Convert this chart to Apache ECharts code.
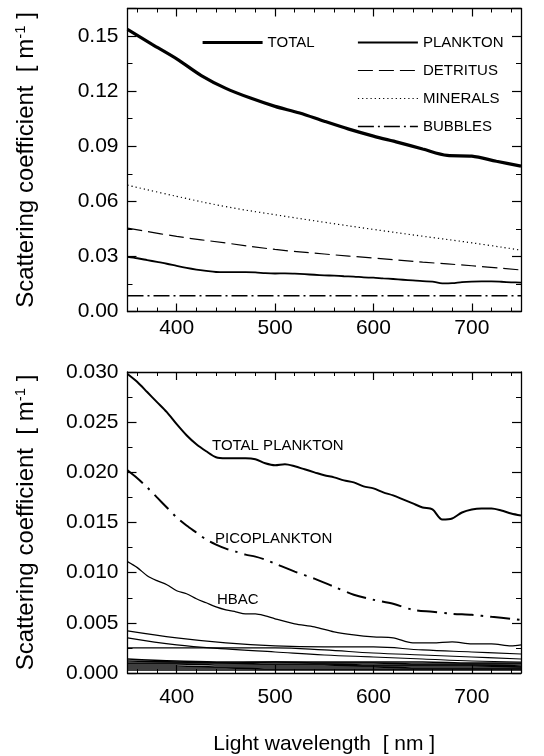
<!DOCTYPE html>
<html>
<head>
<meta charset="utf-8">
<script src="https://cdn.jsdelivr.net/npm/echarts@6/dist/echarts.min.js"></script>
<style>html,body{margin:0;padding:0;background:#fff;}#c{width:544px;height:756px;}</style>
</head>
<body>
<div id="c"></div>
<script>
// ---------- DATA ----------
const wl25 = [350,375,400,425,450,475,500,525,550,575,600,625,650,675,700,725,750];
const wl50 = [350,400,450,500,550,600,650,700,750];
const wl100 = [350,450,550,650,750];
const wlTP = [350,360,370,380,390,400,410,420,430,440,450,460,470,480,490,500,510,520,530,540,550,560,570,580,590,600,610,620,630,640,650,660,670,680,690,700,710,720,730,740,750];
const wlFine = [350,360,370,380,390,400,410,420,430,440,450,460,470,480,490,500,520,540,560,580,600,620,640,660,680,700,720,740,750];

// top panel
const total    = [0.1536,0.1455,0.1376,0.1285,0.1215,0.1162,0.1117,0.1081,0.1036,0.0993,0.0955,0.0921,0.0885,0.0850,0.0846,0.0818,0.0792];
const detritus = [0.0454,0.0409,0.0373,0.0338,0.0313,0.0291,0.0269,0.0249,0.0226];
const minerals = [0.0688,0.0627,0.0571,0.0527,0.0486,0.0447,0.0410,0.0374,0.0334];
const bubbles  = [0.0086,0.0086,0.0086,0.0086,0.0086];
// plankton (top) = total plankton (bottom)
const totalPlankton = [0.0298,0.0290,0.0280,0.0270,0.0260,0.0248,0.0237,0.0228,0.0221,0.0215,0.0214,0.0214,0.0214,0.0213,0.0209,0.0207,0.0208,0.0206,0.0203,0.0200,0.0197,0.0195,0.0192,0.0190,0.0186,0.0184,0.0180,0.0177,0.0173,0.0169,0.0165,0.0163,0.0153,0.0154,0.0160,0.0163,0.0164,0.0164,0.0162,0.0159,0.0157];
// bottom panel
const pico = [0.0202,0.0194,0.0185,0.0175,0.0165,0.0155,0.0147,0.0140,0.0133,0.0128,0.0124,0.0121,0.0118,0.0116,0.0113,0.0109,0.0101,0.0094,0.0086,0.0078,0.0073,0.0069,0.0063,0.0061,0.0059,0.0058,0.0056,0.0054,0.0053];
const hbac = [0.0111,0.0105,0.0097,0.0092,0.0088,0.0082,0.0079,0.0074,0.0070,0.0066,0.0063,0.0061,0.0059,0.0059,0.0057,0.0054,0.0049,0.0046,0.0041,0.0038,0.0036,0.0035,0.0030,0.0030,0.0031,0.0029,0.0029,0.0027,0.0028];
const small = [
  [0.0042,0.0035,0.0030,0.0027,0.0026,0.0026,0.0023,0.0021,0.0019],
  [0.0025,0.0025,0.0025,0.0025,0.0023,0.0020,0.0018,0.0016,0.0014],
  [0.0035,0.0028,0.0024,0.0021,0.0018,0.0016,0.0014,0.0012,0.0011],
  [0.0014,0.0012,0.0011,0.0011,0.0010,0.0010,0.0009,0.0009,0.0009],
  [0.0012,0.0011,0.0010,0.0009,0.0009,0.0008,0.0008,0.0008,0.0007],
  [0.0010,0.0010,0.0010,0.0011,0.0011,0.0011,0.0011,0.0010,0.0010],
  [0.0009,0.0009,0.0008,0.0008,0.0008,0.0007,0.0007,0.0007,0.0006],
  [0.0007,0.0007,0.0006,0.0006,0.0006,0.0006,0.0005,0.0005,0.0005],
  [0.0005,0.0005,0.0005,0.0004,0.0004,0.0004,0.0004,0.0004,0.0004],
  [0.0003,0.0003,0.0003,0.0003,0.0003,0.0003,0.0003,0.0003,0.0003]
];
const xMajor = [400,500,600,700];
const xMinor = [360,380,420,440,460,480,520,540,560,580,620,640,660,680,720,740];

// ---------- CHART ----------
const FONT = '"Liberation Sans", Arial, Helvetica, sans-serif';
const zip = (xs, ys) => xs.map((x,i)=>[x, ys[i]]);
const chart = echarts.init(document.getElementById('c'), null, {renderer:'canvas'});

function xAxes(gi, labelMargin){
  const base = {gridIndex:gi, type:'value', min:350, max:750, interval:50, splitLine:{show:false}};
  return [
    Object.assign({}, base, {position:'bottom',
      axisLine:{show:true, lineStyle:{color:'#000', width:1.3}},
      axisTick:{show:true, inside:true, length:8, customValues:xMajor, lineStyle:{color:'#000', width:1.2}},
      axisLabel:{show:true, customValues:xMajor, color:'#000', fontSize:21, fontFamily:FONT, margin:labelMargin}}),
    Object.assign({}, base, {position:'bottom',
      axisLine:{show:false},
      axisTick:{show:true, inside:true, length:4, customValues:xMinor, lineStyle:{color:'#000', width:1}},
      axisLabel:{show:false}}),
    Object.assign({}, base, {position:'top',
      axisLine:{show:true, lineStyle:{color:'#000', width:1.3}},
      axisTick:{show:true, inside:true, length:8, customValues:xMajor, lineStyle:{color:'#000', width:1.2}},
      axisLabel:{show:false}}),
    Object.assign({}, base, {position:'top',
      axisLine:{show:false},
      axisTick:{show:true, inside:true, length:4, customValues:xMinor, lineStyle:{color:'#000', width:1}},
      axisLabel:{show:false}})
  ];
}
function yAxes(gi, max, interval, digits){
  const fmt = v => (Math.abs(v/interval - Math.round(v/interval)) < 1e-6) ? v.toFixed(digits) : '';
  const common = {gridIndex:gi, type:'value', min:0, max:max, interval:interval, splitLine:{show:false},
    axisLine:{show:true, lineStyle:{color:'#000', width:1.3}},
    axisTick:{show:true, inside:true, length:9, lineStyle:{color:'#000', width:1.2}},
    minorTick:{show:true, splitNumber:2, length:5, lineStyle:{color:'#000', width:1}}};
  return [
    Object.assign({}, common, {position:'left',
      axisLabel:{color:'#000', fontSize:21, fontFamily:FONT, margin:9, formatter:fmt, showMaxLabel:true},
      name:'{a|Scattering coefficient  [ m}{s|-1}{a| ]}', nameLocation:'middle', nameGap:88,
      nameTextStyle:{color:'#000', fontFamily:FONT, fontSize:24,
        rich:{a:{fontSize:24, fontFamily:FONT, color:'#000'}, s:{fontSize:15, fontFamily:FONT, color:'#000', verticalAlign:'top', padding:[0,0,11,0]}}}}),
    Object.assign({}, common, {position:'right', axisLabel:{show:false}})
  ];
}

const xs = xAxes(0, 6).concat(xAxes(1, 14));
xs[4].name = 'Light wavelength  [ nm ]';
xs[4].nameLocation = 'middle';
xs[4].nameGap = 61;
xs[4].nameTextStyle = {color:'#000', fontSize:21, fontFamily:FONT};

const ys = yAxes(0, 0.165, 0.03, 2).concat(yAxes(1, 0.03, 0.005, 3));

const blk = {color:'#000'};
const series = [
  {name:'TOTAL', type:'line', xAxisIndex:0, yAxisIndex:0, data:zip(wl25,total), showSymbol:false, symbol:'none', smooth:0.3,
   itemStyle:blk, lineStyle:{color:'#000', width:3.2}},
  {name:'PLANKTON', type:'line', xAxisIndex:0, yAxisIndex:0, data:zip(wlTP,totalPlankton), showSymbol:false, symbol:'none', smooth:0.3,
   itemStyle:blk, lineStyle:{color:'#000', width:1.8}},
  {name:'DETRITUS', type:'line', xAxisIndex:0, yAxisIndex:0, data:zip(wl50,detritus), showSymbol:false, symbol:'none', smooth:0.4,
   itemStyle:blk, lineStyle:{color:'#000', width:1.2, type:[15,6]}},
  {name:'MINERALS', type:'line', xAxisIndex:0, yAxisIndex:0, data:zip(wl50,minerals), showSymbol:false, symbol:'none', smooth:0.4,
   itemStyle:blk, lineStyle:{color:'#000', width:1.2, type:[1.2,3]}},
  {name:'BUBBLES', type:'line', xAxisIndex:0, yAxisIndex:0, data:zip(wl100,bubbles), showSymbol:false, symbol:'none',
   itemStyle:blk, lineStyle:{color:'#000', width:1.6, type:[16,4,2,4]}},
  {name:'TOTAL PLANKTON', type:'line', xAxisIndex:4, yAxisIndex:2, data:zip(wlTP,totalPlankton), showSymbol:false, symbol:'none', smooth:0.3,
   itemStyle:blk, lineStyle:{color:'#000', width:2}},
  {name:'PICOPLANKTON', type:'line', xAxisIndex:4, yAxisIndex:2, data:zip(wlFine,pico), showSymbol:false, symbol:'none', smooth:0.3,
   itemStyle:blk, lineStyle:{color:'#000', width:2, type:[20,7,2.5,7]}},
  {name:'HBAC', type:'line', xAxisIndex:4, yAxisIndex:2, data:zip(wlFine,hbac), showSymbol:false, symbol:'none', smooth:0.3,
   itemStyle:blk, lineStyle:{color:'#000', width:1.3}}
];
small.forEach((arr,i)=>{
  series.push({name:'class'+(i+1), type:'line', xAxisIndex:4, yAxisIndex:2, data:zip(wl50,arr), showSymbol:false, symbol:'none', smooth:0.4,
    itemStyle:blk, lineStyle:{color:'#000', width: i>=3 ? 1.6 : 1.1}});
});

const legendCommon = {itemWidth:60, itemHeight:14, selectedMode:false,
  itemStyle:{opacity:0, borderWidth:0},
  textStyle:{color:'#000', fontSize:15, fontFamily:FONT}};

chart.setOption({
  animation:false,
  backgroundColor:'#fff',
  textStyle:{fontFamily:FONT},
  grid:[
    {left:127.5, right:23, top:8.5, height:303},
    {left:127.5, right:23, top:372, height:301}
  ],
  xAxis: xs,
  yAxis: ys,
  legend:[
    Object.assign({data:[{name:'TOTAL', lineStyle:{width:3.2, color:'#000'}}], left:196, top:30}, legendCommon),
    Object.assign({data:[
        {name:'PLANKTON', lineStyle:{width:1.8, color:'#000'}},
        {name:'DETRITUS', lineStyle:{width:1.2, color:'#000'}},
        {name:'MINERALS', lineStyle:{width:1.2, color:'#000'}},
        {name:'BUBBLES', lineStyle:{width:1.5, color:'#000'}}
      ], orient:'vertical', left:352, top:30, itemGap:13}, legendCommon)
  ],
  graphic:[
    {type:'text', x:212, y:446, style:{text:'TOTAL PLANKTON', font:'15px '+FONT, fill:'#000', verticalAlign:'middle'}},
    {type:'text', x:215, y:539, style:{text:'PICOPLANKTON', font:'15px '+FONT, fill:'#000', verticalAlign:'middle'}},
    {type:'text', x:217, y:600, style:{text:'HBAC', font:'15px '+FONT, fill:'#000', verticalAlign:'middle'}}
  ],
  series: series
});
</script>
</body>
</html>
